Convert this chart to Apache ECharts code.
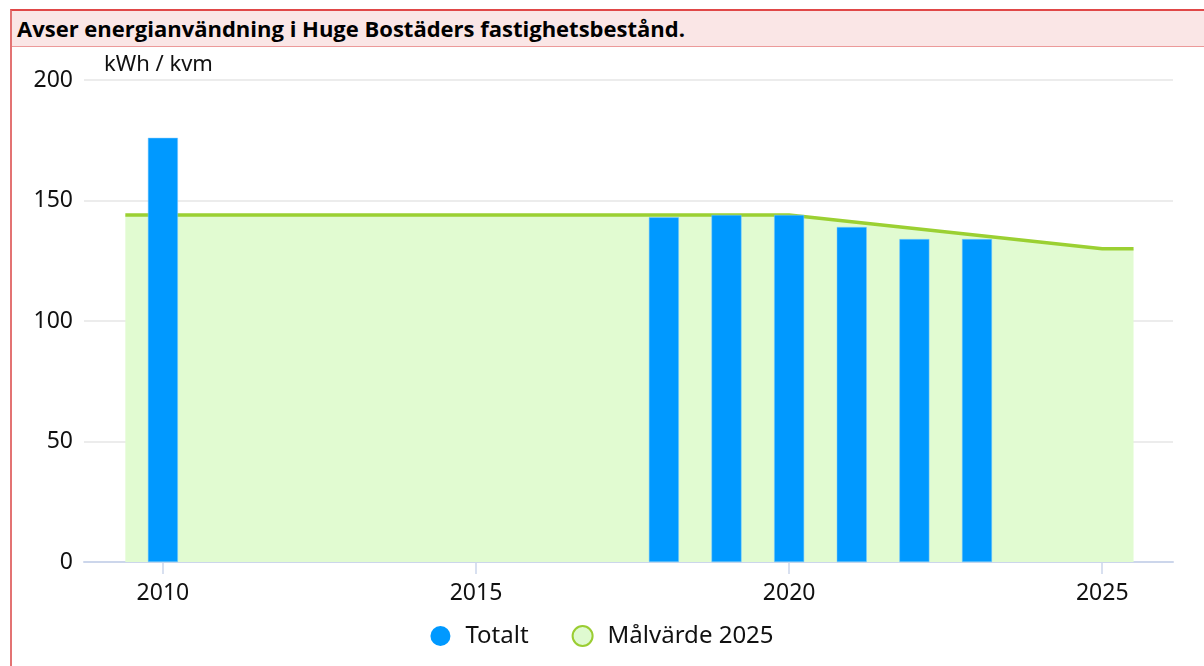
<!DOCTYPE html>
<html>
<head>
<meta charset="utf-8">
<title>Energianvändning</title>
<script src="https://cdn.jsdelivr.net/npm/echarts@6/dist/echarts.min.js"></script>
<style>
    html, body { margin: 0; padding: 0; background: #fff; }
    #frame {
        position: absolute; left: 10px; top: 9px; width: 1200px; height: 670px;
        border-left: 2px solid #e37373; border-top: 2px solid #e04848;
    }
    #title {
        height: 35px; background: #fae6e6; border-bottom: 1px solid #ec9a9a;
        font-family: "Open Sans", sans-serif; font-weight: bold; font-size: 22px;
        line-height: 34px; padding-left: 5px; color: #000; white-space: nowrap;
    }
    #chart { position: absolute; left: 0; top: 0; width: 1204px; height: 666px; }
</style>
</head>
<body>
<div id="frame"><div id="title">Avser energianvändning i Huge Bostäders fastighetsbestånd.</div></div>
<div id="chart"></div>
<script>
// Totalt per år (kWh/kvm)
var barYears = [2010, 2018, 2019, 2020, 2021, 2022, 2023];
var barValues = [176, 143, 144, 144, 139, 134, 134];
// Målvärde 2025
var goalYears = [2009.4, 2020, 2025, 2025.5];
var goalValues = [144, 144, 130, 130];
var xTicks = [2010, 2015, 2020, 2025];

var font = '"Noto Sans", sans-serif';

var chart = echarts.init(document.getElementById('chart'));
chart.setOption({
    animation: false,
    textStyle: { fontFamily: font },
    grid: { left: 84, right: 31, top: 80, bottom: 104 },
    legend: {
        bottom: 13,
        left: 'center',
        itemWidth: 20,
        itemHeight: 20,
        itemGap: 43,
        textStyle: { fontSize: 24, color: '#111', fontFamily: font, padding: [0, 0, 0, 10] },
        data: [
            { name: 'Totalt', icon: 'circle', itemStyle: { color: '#0099ff', borderWidth: 0 } },
            { name: 'Målvärde 2025', icon: 'circle',
              itemStyle: { color: '#dffad0', borderColor: '#9acd32', borderWidth: 2 } }
        ]
    },
    xAxis: {
        type: 'value',
        min: 2008.74,
        max: 2026.13,
        splitLine: { show: false },
        axisLine: { show: true, onZero: false, lineStyle: { color: '#ccd6eb', width: 2 } },
        axisTick: { show: true, length: 12, customValues: xTicks, lineStyle: { color: '#ccd6eb', width: 1.5 } },
        axisLabel: {
            customValues: xTicks, margin: 20, fontSize: 23, color: '#111', fontFamily: font,
            formatter: function (v) { return String(v); }
        }
    },
    yAxis: {
        type: 'value',
        min: 0,
        max: 200,
        interval: 50,
        name: 'kWh / kvm',
        nameLocation: 'end',
        nameGap: 4,
        nameTextStyle: { fontSize: 22, color: '#111', align: 'left', padding: [0, 0, 0, 20], fontFamily: font },
        axisLine: { show: false },
        axisTick: { show: false },
        axisLabel: { margin: 11, fontSize: 23, color: '#111', fontFamily: font },
        splitLine: { lineStyle: { color: '#e6e6e6', width: 1.5 } }
    },
    series: [
        {
            name: 'Målvärde 2025',
            type: 'line',
            z: 1,
            symbol: 'none',
            data: goalYears.map(function (y, i) { return [y, goalValues[i]]; }),
            lineStyle: { color: '#9bd032', width: 3.5 },
            itemStyle: { color: '#9bd032' },
            areaStyle: { color: '#e1fbd1', opacity: 1 }
        },
        {
            name: 'Totalt',
            type: 'bar',
            z: 3,
            barWidth: 30,
            data: barYears.map(function (y, i) { return [y, barValues[i]]; }),
            itemStyle: { color: '#0099ff', borderColor: '#7fcbff', borderWidth: 0.5 }
        }
    ]
});
</script>
</body>
</html>
